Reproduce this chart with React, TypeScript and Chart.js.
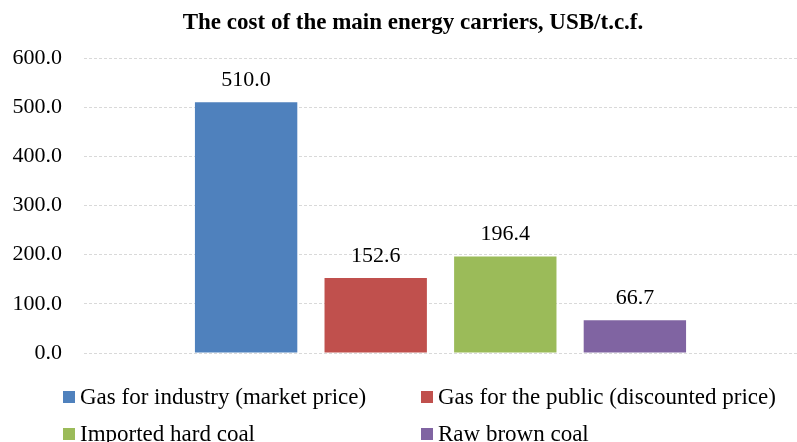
import React, { useEffect, useRef } from "react";
import { Chart, registerables } from "chart.js";

Chart.register(...registerables);

const categories = [""];
const seriesNames = [
  "Gas for industry (market price)",
  "Gas for the public (discounted price)",
  "Imported hard coal",
  "Raw brown coal",
];
const seriesValues = [510.0, 152.6, 196.4, 66.7];
const seriesColors = ["#4F81BD", "#C0504D", "#9BBB59", "#8064A2"];
const yTicks = [0, 100, 200, 300, 400, 500, 600];
const titleText = "The cost of the main energy carriers, USB/t.c.f.";

const FONT = "'Liberation Serif', 'Times New Roman', serif";

const dataLabelPlugin = {
  id: "dataLabels",
  afterDatasetsDraw(chart: any) {
    const ctx = chart.ctx;
    ctx.save();
    ctx.font = `22px ${FONT}`;
    ctx.fillStyle = "#000";
    ctx.textAlign = "center";
    ctx.textBaseline = "bottom";
    chart.data.datasets.forEach((ds: any, i: number) => {
      const meta = chart.getDatasetMeta(i);
      meta.data.forEach((bar: any, j: number) => {
        const v = ds.data[j];
        ctx.fillText(Number(v).toFixed(1), bar.x, bar.y - 11);
      });
    });
    ctx.restore();
  },
};

const titlePlugin = {
  id: "customTitle",
  afterDraw(chart: any) {
    const ctx = chart.ctx;
    ctx.save();
    ctx.font = `bold 23px ${FONT}`;
    ctx.fillStyle = "#000";
    ctx.textAlign = "center";
    ctx.textBaseline = "middle";
    ctx.fillText(titleText, 413, 23);
    ctx.restore();
  },
};

const legendPlugin = {
  id: "customLegend",
  afterDraw(chart: any) {
    const ctx = chart.ctx;
    ctx.save();
    ctx.font = `23px ${FONT}`;
    ctx.textBaseline = "middle";
    ctx.textAlign = "left";
    const colX = [63, 421];
    const rowY = [397, 434];
    chart.data.datasets.forEach((ds: any, i: number) => {
      const x = colX[i % 2];
      const y = rowY[Math.floor(i / 2)];
      ctx.fillStyle = ds.backgroundColor;
      ctx.fillRect(x, y - 6, 12, 12);
      ctx.fillStyle = "#000";
      ctx.fillText(ds.label, x + 17, y + 1);
    });
    ctx.restore();
  },
};

export default function App() {
  const canvasRef = useRef<HTMLCanvasElement | null>(null);

  useEffect(() => {
    if (!canvasRef.current) return;
    const chart = new Chart(canvasRef.current, {
      type: "bar",
      data: {
        labels: categories,
        datasets: seriesNames.map((name, i) => ({
          label: name,
          data: [seriesValues[i]],
          backgroundColor: seriesColors[i],
          borderWidth: 0,
        })),
      },
      options: {
        animation: false,
        responsive: true,
        maintainAspectRatio: false,
        datasets: {
          bar: { categoryPercentage: 0.727, barPercentage: 0.79 },
        },
        layout: { padding: { top: 58, left: 0, right: 0, bottom: 89 } },
        plugins: {
          legend: { display: false },
          tooltip: { enabled: false },
          title: { display: false },
        },
        scales: {
          x: { display: false },
          y: {
            min: 0,
            max: 600,
            afterBuildTicks: (scale: any) => {
              scale.ticks = yTicks.map((v) => ({ value: v }));
            },
            afterFit: (scale: any) => {
              scale.width = 84;
            },
            border: { display: false, dash: [3, 2] },
            grid: {
              color: "#d9d9d9",
              tickLength: 0,
              drawTicks: false,
            },
            ticks: {
              color: "#000",
              padding: 22,
              font: { family: FONT, size: 22 },
              callback: (v: any) => Number(v).toFixed(1),
            },
          },
        },
      },
      plugins: [dataLabelPlugin, titlePlugin, legendPlugin],
    });
    return () => chart.destroy();
  }, []);

  return (
    <div style={{ position: "fixed", left: 0, top: 0, width: 797, height: 442, background: "#fff" }}>
      <canvas ref={canvasRef} />
    </div>
  );
}
